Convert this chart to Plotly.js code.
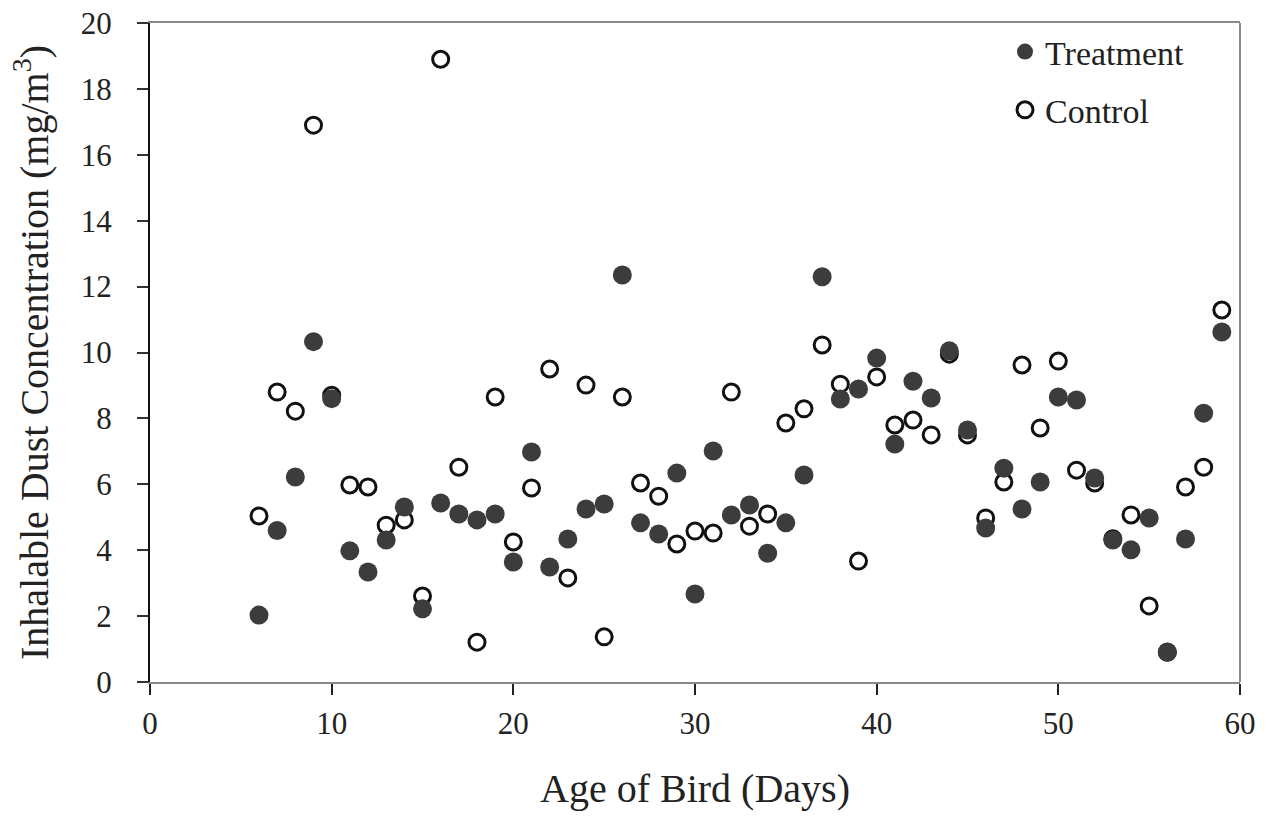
<!DOCTYPE html>
<html>
<head>
<meta charset="utf-8">
<script src="https://cdn.plot.ly/plotly-3.0.1.min.js"></script>
<style>html,body{margin:0;padding:0;background:#fff;}#chart{width:1277px;height:817px;}</style>
</head>
<body>
<div id="chart"></div>
<script>
const days = [6,7,8,9,10,11,12,13,14,15,16,17,18,19,20,21,22,23,24,25,26,27,28,29,30,31,32,33,34,35,36,37,38,39,40,41,42,43,44,45,46,47,48,49,50,51,52,53,54,55,56,57,58,59];
const treatment = [2.03,4.6,6.22,10.33,8.6,3.98,3.34,4.31,5.31,2.22,5.43,5.1,4.92,5.1,3.64,6.98,3.49,4.34,5.25,5.4,12.35,4.83,4.49,6.34,2.67,7.01,5.07,5.37,3.91,4.83,6.28,12.3,8.59,8.89,9.83,7.22,9.13,8.62,10.05,7.65,4.67,6.49,5.25,6.07,8.65,8.56,6.19,4.31,4.01,4.98,0.91,4.34,8.16,10.62];
const control = [5.04,8.8,8.22,16.9,8.7,5.98,5.92,4.76,4.92,2.61,18.9,6.52,1.21,8.65,4.25,5.89,9.5,3.16,9.01,1.37,8.65,6.04,5.64,4.19,4.58,4.52,8.8,4.73,5.1,7.86,8.29,10.23,9.04,3.67,9.26,7.8,7.95,7.5,9.95,7.5,4.98,6.07,9.62,7.71,9.74,6.43,6.04,4.35,5.07,2.31,0.9,5.92,6.52,11.29];
const xTicks = [0,10,20,30,40,50,60];
const yTicks = [0,2,4,6,8,10,12,14,16,18,20];
const seriesNames = ['Treatment','Control'];

const font = 'Liberation Serif, Times New Roman, serif';

const traces = [
  {
    x: days, y: control, type: 'scatter', mode: 'markers', name: seriesNames[1],
    legendrank: 2, legendgroup: 'c',
    marker: {size: 16, color: '#ffffff', line: {color: '#111111', width: 3}},
    cliponaxis: false
  },
  {
    x: days, y: treatment, type: 'scatter', mode: 'markers', name: seriesNames[0],
    legendrank: 1, legendgroup: 't',
    marker: {size: 19, color: '#3c3c3c', line: {width: 0}},
    cliponaxis: false
  }
];

const layout = {
  width: 1277, height: 817,
  margin: {l: 150, r: 37, t: 23, b: 135},
  paper_bgcolor: '#ffffff', plot_bgcolor: '#ffffff',
  font: {family: font, color: '#222222', size: 31},
  showlegend: true,
  legend: {
    x: 0.7844, y: 1.0, xanchor: 'left', yanchor: 'top',
    font: {family: font, size: 34, color: '#222222'},
    bgcolor: 'rgba(0,0,0,0)', traceorder: 'grouped', tracegroupgap: 11,
    itemwidth: 30
  },
  xaxis: {
    range: [0, 60], tickvals: xTicks, ticktext: xTicks.map(String),
    showgrid: false, zeroline: false,
    showline: true, linecolor: '#8a8a8a', linewidth: 2, mirror: true,
    ticks: 'outside', ticklen: 11, tickcolor: '#222222', tickwidth: 2,
    tickfont: {family: font, size: 31, color: '#222222'},
    ticklabelstandoff: 2,
    title: {text: 'Age of Bird (Days)', font: {family: font, size: 40, color: '#222222'}, standoff: 34}
  },
  yaxis: {
    range: [0, 20], tickvals: yTicks, ticktext: yTicks.map(String),
    showgrid: false, zeroline: false,
    showline: true, linecolor: '#111111', linewidth: 2,
    ticks: 'outside', ticklen: 11, tickcolor: '#333333', tickwidth: 2,
    tickfont: {family: font, size: 31, color: '#222222'},
    ticklabelstandoff: 19,
    title: {text: 'Inhalable Dust Concentration (mg/m<sup>3</sup>)', font: {family: font, size: 40, color: '#222222'}, standoff: 20}
  },
  shapes: [
    {type: 'line', xref: 'paper', yref: 'paper', x0: 1, x1: 1, y0: 0, y1: 1, line: {color: '#8a8a8a', width: 2}}
  ]
};

Plotly.newPlot('chart', traces, layout, {displayModeBar: false, staticPlot: true});
</script>
</body>
</html>
